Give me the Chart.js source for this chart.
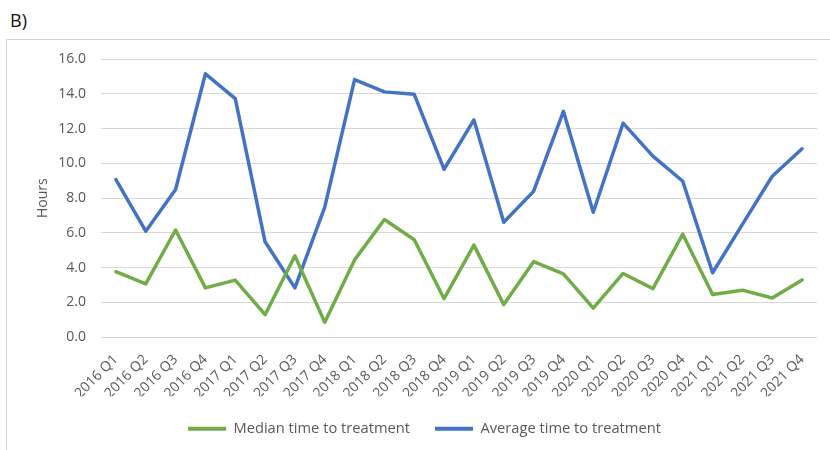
<!DOCTYPE html>
<html>
<head>
<meta charset="utf-8">
<script src="https://cdn.jsdelivr.net/npm/chart.js@4"></script>
<style>
  html, body { margin: 0; padding: 0; background: #fff; }
  #wrap { position: relative; width: 830px; height: 450px; overflow: hidden; }
  #panel { position: absolute; left: 10px; top: 8px; font: 18px "Open Sans", sans-serif; color: #111; }
  #frame { position: absolute; left: 6px; top: 39px; width: 860px; height: 440px; border: 1px solid #d9d9d9; box-sizing: border-box; }
  #c { position: absolute; left: 0; top: 0; }
</style>
</head>
<body>
<div id="wrap">
  <div id="panel">B)</div>
  <div id="frame"></div>
  <canvas id="c" width="830" height="450"></canvas>
</div>
<script>
const quarters = [
  "2016 Q1","2016 Q2","2016 Q3","2016 Q4",
  "2017 Q1","2017 Q2","2017 Q3","2017 Q4",
  "2018 Q1","2018 Q2","2018 Q3","2018 Q4",
  "2019 Q1","2019 Q2","2019 Q3","2019 Q4",
  "2020 Q1","2020 Q2","2020 Q3","2020 Q4",
  "2021 Q1","2021 Q2","2021 Q3","2021 Q4"
];
const medianHours = [
  3.77, 3.07, 6.17, 2.84,
  3.29, 1.30, 4.68, 0.87,
  4.45, 6.77, 5.61, 2.22,
  5.30, 1.88, 4.35, 3.65,
  1.68, 3.67, 2.80, 5.93,
  2.46, 2.71, 2.26, 3.30
];
const averageHours = [
  9.07, 6.10, 8.50, 15.15,
  13.72, 5.49, 2.84, 7.48,
  14.82, 14.11, 13.97, 9.66,
  12.50, 6.61, 8.39, 12.99,
  7.19, 12.31, 10.42, 8.97,
  3.71, 6.49, 9.26, 10.84
];
const yTicks = [0, 2, 4, 6, 8, 10, 12, 14, 16];

const GREEN = "#70AD47";
const BLUE = "#4472C4";
const TEXT = "#595959";
const GRID = "#d9d9d9";
const FONT = "'Open Sans', sans-serif";

new Chart(document.getElementById("c"), {
  type: "line",
  data: {
    labels: quarters,
    datasets: [
      { label: "Median time to treatment", data: medianHours, borderColor: GREEN, backgroundColor: GREEN,
        borderWidth: 3.5, pointRadius: 0, tension: 0, borderJoinStyle: "round", borderCapStyle: "round" },
      { label: "Average time to treatment", data: averageHours, borderColor: BLUE, backgroundColor: BLUE,
        borderWidth: 3.5, pointRadius: 0, tension: 0, borderJoinStyle: "round", borderCapStyle: "round" }
    ]
  },
  options: {
    responsive: false,
    animation: false,
    layout: { padding: { left: 32, right: 13, top: 59, bottom: 4 } },
    plugins: {
      tooltip: { enabled: false },
      legend: {
        position: "bottom",
        labels: {
          color: TEXT,
          font: { family: FONT, size: 14.7 },
          boxWidth: 38,
          boxHeight: 4,
          padding: 25,
          generateLabels(chart) {
            return chart.data.datasets.map((ds, i) => ({
              text: ds.label, fillStyle: ds.borderColor, strokeStyle: ds.borderColor,
              lineWidth: 0, hidden: false, datasetIndex: i, fontColor: TEXT
            }));
          }
        }
      }
    },
    scales: {
      x: {
        offset: true,
        grid: { display: false, drawTicks: false },
        border: { display: false },
        ticks: {
          color: TEXT, font: { family: FONT, size: 14 },
          minRotation: 45, maxRotation: 45, autoSkip: false, padding: 14
        },
        afterFit(scale) { scale.height = 59; }
      },
      y: {
        min: 0, max: 16,
        afterBuildTicks(scale) { scale.ticks = yTicks.map(v => ({ value: v })); },
        grid: { color: GRID, lineWidth: 1, drawTicks: false },
        border: { display: false },
        ticks: {
          color: TEXT, font: { family: FONT, size: 14 }, padding: 15,
          callback: v => Number(v).toFixed(1)
        },
        title: { display: true, text: "Hours", color: TEXT, font: { family: FONT, size: 14 }, padding: { top: 3, bottom: 0 } },
        afterFit(scale) { scale.width = 69; }
      }
    }
  }
});
</script>
</body>
</html>
